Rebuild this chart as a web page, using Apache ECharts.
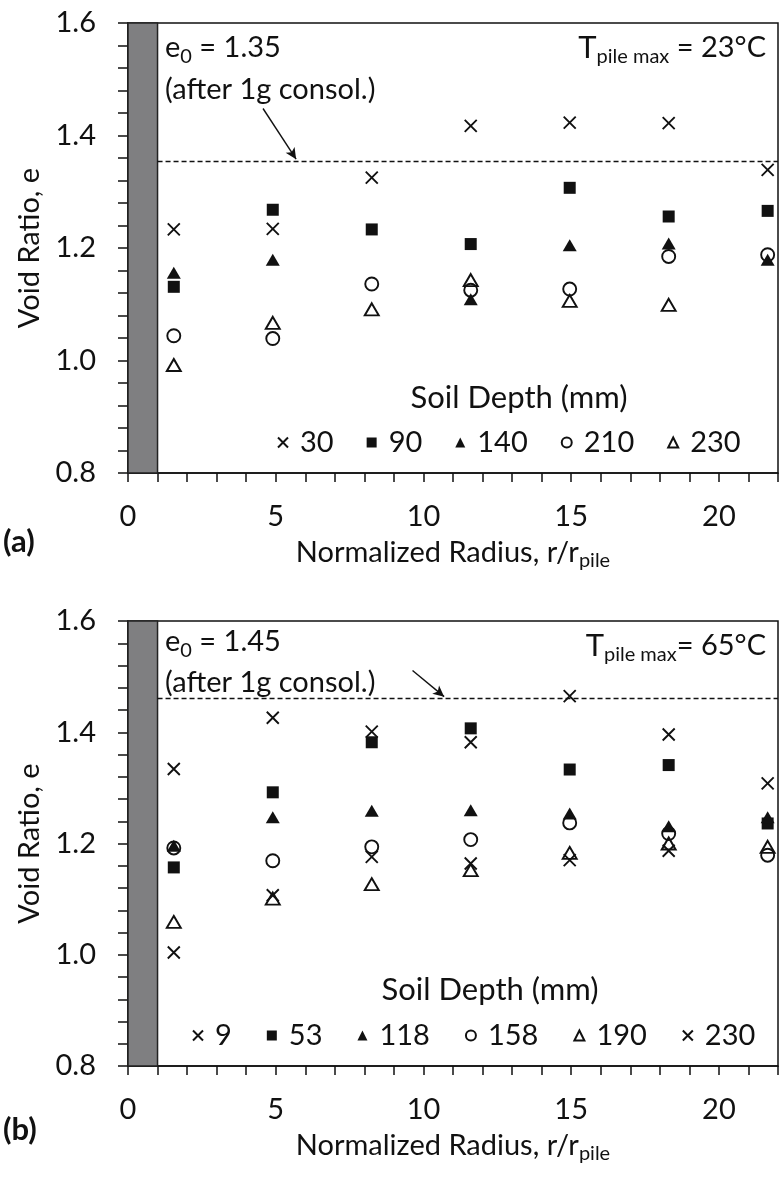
<!DOCTYPE html>
<html>
<head>
<meta charset="utf-8">
<script src="https://cdn.jsdelivr.net/npm/echarts@6/dist/echarts.min.js"></script>
<style>
  html, body { margin: 0; background: #fff; }
  #chart { width: 783px; height: 1182px; }
</style>
</head>
<body>
<div id="chart"></div>
<script>
// normalized radius of each measuring column
const radius = [1.55, 4.9, 8.25, 11.6, 14.95, 18.3, 21.65]

// (a) T pile max = 23°C, e0 = 1.35
const e0LineA = 1.355
const a30 = [1.233, 1.234, 1.325, 1.417, 1.423, 1.422, 1.339]
const a90 = [1.131, 1.268, 1.233, 1.207, 1.307, 1.256, 1.266]
const a140 = [1.156, 1.179, null, 1.109, 1.205, 1.208, 1.179]
const a210 = [1.044, 1.039, 1.136, 1.125, 1.127, 1.185, 1.188]
const a230 = [0.992, 1.067, 1.091, 1.143, 1.106, 1.099, null]

// (b) T pile max = 65°C, e0 = 1.45
const e0LineB = 1.461
const b9 = [1.334, 1.426, 1.401, 1.382, 1.465, 1.396, 1.308]
const b53 = [1.157, 1.292, 1.382, 1.407, 1.333, 1.341, 1.236]
const b118 = [1.196, 1.247, 1.259, 1.260, 1.254, 1.231, 1.247]
const b158 = [1.192, 1.169, 1.194, 1.207, 1.237, 1.218, 1.179]
const b190 = [1.059, 1.101, 1.127, 1.152, 1.183, 1.200, 1.194]
const b230 = [1.004, 1.107, 1.176, 1.164, 1.170, 1.187, null]

const xTicks = [0, 5, 10, 15, 20]
const yTicks = [0.8, 1.0, 1.2, 1.4, 1.6]

const FONT = 'Lato, "Noto Sans", sans-serif'
const INK = '#111'

const marker = {
  cross: { symbol: 'path://M0,0L10,10M10,0L0,10', symbolSize: 12, itemStyle: { color: 'rgba(0,0,0,0)', borderColor: INK, borderWidth: 1.9, opacity: 1 } },
  square: { symbol: 'rect', symbolSize: 12, itemStyle: { color: INK, opacity: 1 } },
  triFill: { symbol: 'triangle', symbolSize: [14, 12], itemStyle: { color: INK, opacity: 1 } },
  circleOpen: { symbol: 'circle', symbolSize: 13, itemStyle: { color: 'rgba(0,0,0,0)', borderColor: INK, borderWidth: 1.9, opacity: 1 } },
  triOpen: { symbol: 'triangle', symbolSize: [14, 12], itemStyle: { color: 'rgba(0,0,0,0)', borderColor: INK, borderWidth: 1.9, opacity: 1 } },
}

function scatter(name, vals, m, gi) {
  return {
    type: 'scatter',
    name,
    xAxisIndex: gi,
    yAxisIndex: gi,
    data: radius.map((x, i) => [x, vals[i]]).filter(d => d[1] != null),
    symbol: m.symbol,
    symbolSize: m.symbolSize,
    itemStyle: m.itemStyle,
    z: 5,
  }
}

// pile bar, e0 dashed line and arrow for one panel
function helper(gi, e0, arrowFrom, arrowTo) {
  return {
    type: 'scatter',
    xAxisIndex: gi,
    yAxisIndex: gi,
    data: [],
    silent: true,
    markArea: {
      silent: true,
      itemStyle: { color: '#7f7f81', borderColor: '#222', borderWidth: 1.5 },
      data: [[{ coord: [0, 0.8] }, { coord: [1, 1.6] }]],
    },
    markLine: {
      silent: true,
      animation: false,
      label: { show: false },
      symbol: ['none', 'none'],
      data: [
        [
          { coord: [1, e0], symbol: 'none', lineStyle: { type: [5, 3], color: INK, width: 1.4 } },
          { coord: [22, e0], symbol: 'none' },
        ],
        [
          { coord: arrowFrom, symbol: 'none', lineStyle: { type: 'solid', color: INK, width: 1.4 } },
          { coord: arrowTo, symbol: 'arrow', symbolSize: [8, 11] },
        ],
      ],
    },
  }
}

function xAxis(gi) {
  return {
    type: 'value',
    gridIndex: gi,
    min: 0,
    max: 22,
    interval: 1,
    axisLine: { lineStyle: { color: INK, width: 1.5 } },
    axisTick: { length: 9, lineStyle: { color: INK, width: 1.5 } },
    axisLabel: {
      margin: 29,
      fontSize: 29,
      color: INK,
      fontFamily: FONT,
      formatter: v => (xTicks.includes(v) ? String(v) : ''),
    },
    splitLine: { show: false },
    name: '{n|Normalized Radius, r/r}{s|pile}',
    nameLocation: 'middle',
    nameGap: 62,
    nameTextStyle: {
      rich: {
        n: { fontSize: 29, color: INK, fontFamily: FONT, lineHeight: 36 },
        s: { fontSize: 20, color: INK, fontFamily: FONT, lineHeight: 24, verticalAlign: 'bottom' },
      },
    },
  }
}

function yAxis(gi) {
  return {
    type: 'value',
    gridIndex: gi,
    min: 0.8,
    max: 1.6,
    interval: 0.04,
    axisLine: { lineStyle: { color: INK, width: 1.5 } },
    axisTick: { length: 10, lineStyle: { color: INK, width: 1.5 } },
    axisLabel: {
      margin: 32,
      fontSize: 29,
      color: INK,
      fontFamily: FONT,
      formatter: v => {
        const t = yTicks.find(k => Math.abs(k - v) < 1e-6)
        return t === undefined ? '' : t.toFixed(1)
      },
    },
    splitLine: { show: false },
    name: 'Void Ratio, e',
    nameLocation: 'middle',
    nameGap: 67,
    nameTextStyle: { fontSize: 29, color: INK, fontFamily: FONT },
  }
}

const rich = {
  b: { fontSize: 29, color: INK, fontFamily: FONT, lineHeight: 38 },
  s: { fontSize: 20, color: INK, fontFamily: FONT, lineHeight: 24, verticalAlign: 'bottom' },
  t: { fontSize: 31, color: INK, fontFamily: FONT, lineHeight: 38 },
}

function label(x, y, text, align, extra) {
  return {
    type: 'text',
    x,
    y,
    z: 10,
    style: Object.assign({
      text,
      rich,
      fill: INK,
      font: '29px ' + FONT,
      align: align || 'left',
      verticalAlign: 'middle',
    }, extra || {}),
  }
}

const legendCommon = {
  orient: 'horizontal',
  itemWidth: 10,
  itemHeight: 10,
  selectedMode: false,
  textStyle: { fontSize: 29, color: INK, fontFamily: FONT, padding: [0, 0, 0, 7] },
  formatter: n => n.split('|')[1],
}

const chart = echarts.init(document.getElementById('chart'))
chart.setOption({
  animation: false,
  backgroundColor: '#fff',
  grid: [
    { left: 128, right: 5, top: 23, height: 450, show: true, borderColor: INK, borderWidth: 1.5, backgroundColor: '#fff' },
    { left: 128, right: 5, top: 621, height: 445, show: true, borderColor: INK, borderWidth: 1.5, backgroundColor: '#fff' },
  ],
  xAxis: [xAxis(0), xAxis(1)],
  yAxis: [yAxis(0), yAxis(1)],
  legend: [
    Object.assign({ left: 272, top: 423, itemGap: 33, data: ['a|30', 'a|90', 'a|140', 'a|210', 'a|230'] }, legendCommon),
    Object.assign({ left: 187, top: 1016, itemGap: 35, data: ['b|9', 'b|53', 'b|118', 'b|158', 'b|190', 'b|230'] }, legendCommon),
  ],
  series: [
    helper(0, e0LineA, [4.57, 1.448], [5.69, 1.358]),
    scatter('a|30', a30, marker.cross, 0),
    scatter('a|90', a90, marker.square, 0),
    scatter('a|140', a140, marker.triFill, 0),
    scatter('a|210', a210, marker.circleOpen, 0),
    scatter('a|230', a230, marker.triOpen, 0),
    helper(1, e0LineB, [9.63, 1.511], [10.7, 1.464]),
    scatter('b|9', b9, marker.cross, 1),
    scatter('b|53', b53, marker.square, 1),
    scatter('b|118', b118, marker.triFill, 1),
    scatter('b|158', b158, marker.circleOpen, 1),
    scatter('b|190', b190, marker.triOpen, 1),
    scatter('b|230', b230, marker.cross, 1),
  ],
  graphic: [
    label(165, 48, '{b|e}{s|0}{b| = 1.35}'),
    label(165, 90, '{b|(after 1g consol.)}'),
    label(766, 48, '{t|T}{s|pile max}{b| = 23°C}', 'right'),
    label(519, 398, '{t|Soil Depth (mm)}', 'center'),
    label(3, 542, '(a)', 'left', { font: 'bold 31px ' + FONT }),
    label(165, 642, '{b|e}{s|0}{b| = 1.45}'),
    label(165, 683, '{b|(after 1g consol.)}'),
    label(766, 646, '{t|T}{s|pile max}{b|= 65°C}', 'right'),
    label(490, 990, '{t|Soil Depth (mm)}', 'center'),
    label(3, 1130, '(b)', 'left', { font: 'bold 31px ' + FONT }),
  ],
})
</script>
</body>
</html>
